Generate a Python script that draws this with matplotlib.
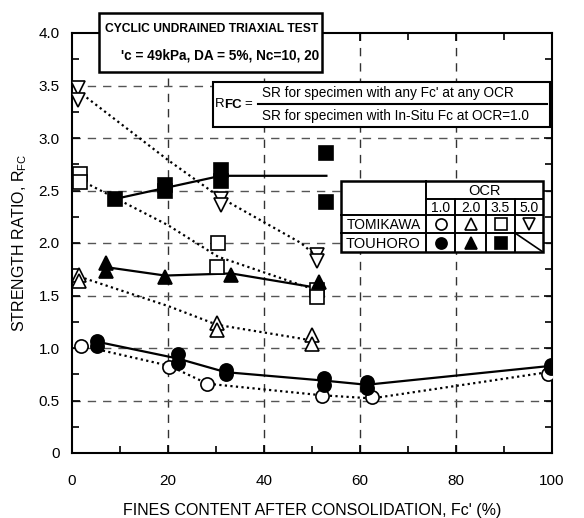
import matplotlib
matplotlib.use("Agg")
import matplotlib.pyplot as plt
from matplotlib.patches import Rectangle

plt.rcParams["font.family"] = ["Liberation Sans", "DejaVu Sans"]

# ---- data ----
# TOMIKAWA (open markers, dotted trend lines)
tomi_ocr1_x = [1.9, 20.3, 28.2, 52.0, 62.5, 99.2]
tomi_ocr1_y = [1.02, 0.82, 0.66, 0.54, 0.53, 0.75]
tomi_ocr1_trend_x = [1.9, 5.0, 20.3, 28.2, 52.0, 62.5, 99.2]
tomi_ocr1_trend_y = [1.02, 0.99, 0.83, 0.66, 0.55, 0.52, 0.77]

tomi_ocr2_x = [1.5, 1.5, 30.3, 30.3, 50.0, 50.0]
tomi_ocr2_y = [1.70, 1.64, 1.24, 1.17, 1.12, 1.04]
tomi_ocr2_trend_x = [1.5, 20.0, 30.3, 47.7, 50.0]
tomi_ocr2_trend_y = [1.68, 1.40, 1.22, 1.09, 1.07]

tomi_ocr35_x = [1.7, 1.7, 30.4, 30.3, 51.0, 51.0]
tomi_ocr35_y = [2.66, 2.58, 2.00, 1.77, 1.55, 1.49]
tomi_ocr35_trend_x = [1.7, 20.0, 30.4, 47.7, 51.0]
tomi_ocr35_trend_y = [2.60, 2.17, 1.87, 1.60, 1.55]

tomi_ocr5_x = [1.2, 1.2, 31.0, 31.0, 51.0, 51.0]
tomi_ocr5_y = [3.48, 3.36, 2.42, 2.36, 1.89, 1.83]
tomi_ocr5_trend_x = [1.2, 20.0, 31.0, 47.7, 51.0]
tomi_ocr5_trend_y = [3.45, 2.79, 2.43, 2.00, 1.87]

# TOUHORO (filled markers, solid trend lines)
touh_ocr1_x = [5.2, 5.2, 22.0, 22.0, 32.0, 32.0, 52.4, 52.4, 61.4, 61.4, 99.8, 99.8]
touh_ocr1_y = [1.07, 1.02, 0.94, 0.86, 0.79, 0.75, 0.71, 0.65, 0.68, 0.62, 0.84, 0.81]
touh_ocr1_trend_x = [5.2, 22.0, 32.0, 52.4, 61.4, 99.8]
touh_ocr1_trend_y = [1.06, 0.90, 0.77, 0.69, 0.65, 0.83]

touh_ocr2_x = [7.1, 7.1, 19.4, 33.2, 51.5]
touh_ocr2_y = [1.81, 1.73, 1.68, 1.70, 1.63]
touh_ocr2_trend_x = [7.1, 19.4, 33.2, 51.5]
touh_ocr2_trend_y = [1.77, 1.69, 1.71, 1.57]

touh_ocr35_x = [9.0, 19.4, 19.4, 31.0, 31.0, 53.0, 53.0]
touh_ocr35_y = [2.42, 2.55, 2.50, 2.70, 2.59, 2.86, 2.39]
touh_ocr35_trend_x = [9.0, 31.0, 53.0]
touh_ocr35_trend_y = [2.42, 2.64, 2.64]

ocr_labels = ["1.0", "2.0", "3.5", "5.0"]

W, H = 584, 518
fig = plt.figure(figsize=(W / 100, H / 100), dpi=100)
ax = fig.add_axes([72 / W, 1 - 453 / H, 480 / W, 420 / H])

ms = 9.5
dotted = dict(color="black", lw=1.6, ls=(0, (1, 1.5)), zorder=2)
solid = dict(color="black", lw=1.6, zorder=2)

ax.plot(tomi_ocr1_trend_x, tomi_ocr1_trend_y, **dotted)
ax.plot(tomi_ocr2_trend_x, tomi_ocr2_trend_y, **dotted)
ax.plot(tomi_ocr35_trend_x, tomi_ocr35_trend_y, **dotted)
ax.plot(tomi_ocr5_trend_x, tomi_ocr5_trend_y, **dotted)
ax.plot(touh_ocr1_trend_x, touh_ocr1_trend_y, **solid)
ax.plot(touh_ocr2_trend_x, touh_ocr2_trend_y, **solid)
ax.plot(touh_ocr35_trend_x, touh_ocr35_trend_y, **solid)

open_kw = dict(ls="none", mfc="white", mec="black", mew=1.2, ms=ms, zorder=3)
fill_kw = dict(ls="none", mfc="black", mec="black", mew=1.2, ms=ms, zorder=3)
ax.plot(tomi_ocr1_x, tomi_ocr1_y, "o", **open_kw)
ax.plot(tomi_ocr2_x, tomi_ocr2_y, "^", **open_kw)
ax.plot(tomi_ocr35_x, tomi_ocr35_y, "s", **open_kw)
ax.plot(tomi_ocr5_x, tomi_ocr5_y, "v", **open_kw)
ax.plot(touh_ocr1_x, touh_ocr1_y, "o", **fill_kw)
ax.plot(touh_ocr2_x, touh_ocr2_y, "^", **fill_kw)
ax.plot(touh_ocr35_x, touh_ocr35_y, "s", **fill_kw)

ax.set_xlim(0, 100)
ax.set_ylim(0, 4.0)
ax.set_xticks([0, 20, 40, 60, 80, 100])
ax.set_xticks([10, 30, 50, 70, 90], minor=True)
ax.set_yticks([0, 0.5, 1.0, 1.5, 2.0, 2.5, 3.0, 3.5, 4.0])
ax.set_yticklabels(["0", "0.5", "1.0", "1.5", "2.0", "2.5", "3.0", "3.5", "4.0"])
ax.set_yticks([0.25 + 0.5 * i for i in range(8)], minor=True)
ax.tick_params(which="both", direction="in", top=True, right=True, labelsize=11)
ax.tick_params(which="major", length=6, width=1.2)
ax.tick_params(which="minor", length=5, width=1.2)
ax.tick_params(axis="x", pad=15)
ax.tick_params(axis="y", pad=9)
for s in ax.spines.values():
    s.set_linewidth(1.5)

for v in [20, 40, 60, 80]:
    ax.axvline(v, color="#333333", lw=1.0, ls=(0, (6, 5)), zorder=1)
for v in [0.5, 1.0, 1.5, 2.0, 2.5, 3.0, 3.5]:
    ax.axhline(v, color="#555555", lw=1.0, ls=(0, (6, 5)), zorder=1)

ax.set_xlabel("FINES CONTENT AFTER CONSOLIDATION, Fc' (%)", fontsize=11.5, labelpad=11)
ax.set_ylabel(r"STRENGTH RATIO, R$_{\mathregular{FC}}$", fontsize=11.5, labelpad=7)

# ---- overlay in pixel coordinates for boxes and legend table ----
ov = fig.add_axes([0, 0, 1, 1], facecolor="none")
ov.set_xlim(0, W)
ov.set_ylim(H, 0)
ov.axis("off")

ov.add_patch(Rectangle((99, 13), 223, 59, fc="white", ec="black", lw=1.8, zorder=5))
ov.text(212, 29, "CYCLIC UNDRAINED TRIAXIAL TEST", ha="center", va="center",
        fontsize=8.7, fontweight="bold", zorder=6)
ov.text(121, 55, "'c = 49kPa, DA = 5%, Nc=10, 20", ha="left", va="center",
        fontsize=9.8, fontweight="bold", zorder=6)

ov.add_patch(Rectangle((213, 82), 337, 45, fc="white", ec="black", lw=1.5, zorder=5))
ov.text(215, 104, "R", ha="left", va="center", fontsize=9.5, zorder=6)
ov.text(224.5, 105, "FC", ha="left", va="center", fontsize=9.5, fontweight="bold",
        zorder=6)
ov.text(244, 104, "=", ha="left", va="center", fontsize=9.5, zorder=6)
ov.plot([258, 547], [104, 104], color="black", lw=1.5, zorder=6)
ov.text(262, 93, "SR for specimen with any Fc' at any OCR", ha="left", va="center",
        fontsize=9.8, zorder=6)
ov.text(262, 116, "SR for specimen with In-Situ Fc at OCR=1.0", ha="left", va="center",
        fontsize=9.8, zorder=6)

# legend table
tx0, tx1 = 341, 543
cols = [426, 455, 486, 515, 543]
ry = [181, 199, 215, 233, 252]
ov.add_patch(Rectangle((tx0, ry[0]), tx1 - tx0, ry[4] - ry[0], fc="white", ec="black",
                       lw=1.8, zorder=5))
lk = dict(color="black", lw=1.4, zorder=6)
ov.plot([cols[0], cols[0]], [ry[0], ry[4]], **lk)
ov.plot([cols[0], tx1], [ry[1], ry[1]], **lk)
ov.plot([tx0, tx1], [ry[2], ry[2]], **lk)
ov.plot([tx0, tx1], [ry[3], ry[3]], **lk)
for cx in cols[1:4]:
    ov.plot([cx, cx], [ry[1], ry[4]], **lk)
ov.plot([cols[3], cols[4]], [ry[3], ry[4]], color="black", lw=1.2, zorder=6)
ov.text((cols[0] + tx1) / 2, (ry[0] + ry[1]) / 2 + 1, "OCR", ha="center", va="center",
        fontsize=10.5, zorder=6)
for i, lab in enumerate(ocr_labels):
    ov.text((cols[i] + cols[i + 1]) / 2, (ry[1] + ry[2]) / 2 + 1, lab, ha="center",
            va="center", fontsize=10, zorder=6)
ov.text((tx0 + cols[0]) / 2, (ry[2] + ry[3]) / 2 + 1, "TOMIKAWA", ha="center",
        va="center", fontsize=10, zorder=6)
ov.text((tx0 + cols[0]) / 2, (ry[3] + ry[4]) / 2 + 1, "TOUHORO", ha="center",
        va="center", fontsize=10.5, zorder=6)
for i, m in enumerate(["o", "^", "s", "v"]):
    cx = (cols[i] + cols[i + 1]) / 2
    ov.plot([cx], [(ry[2] + ry[3]) / 2], m, mfc="white", mec="black", mew=1.2, ms=8,
            zorder=7)
for i, m in enumerate(["o", "^", "s"]):
    cx = (cols[i] + cols[i + 1]) / 2
    ov.plot([cx], [(ry[3] + ry[4]) / 2], m, mfc="black", mec="black", mew=1.2, ms=8,
            zorder=7)

fig.savefig("out.png", dpi=100)
